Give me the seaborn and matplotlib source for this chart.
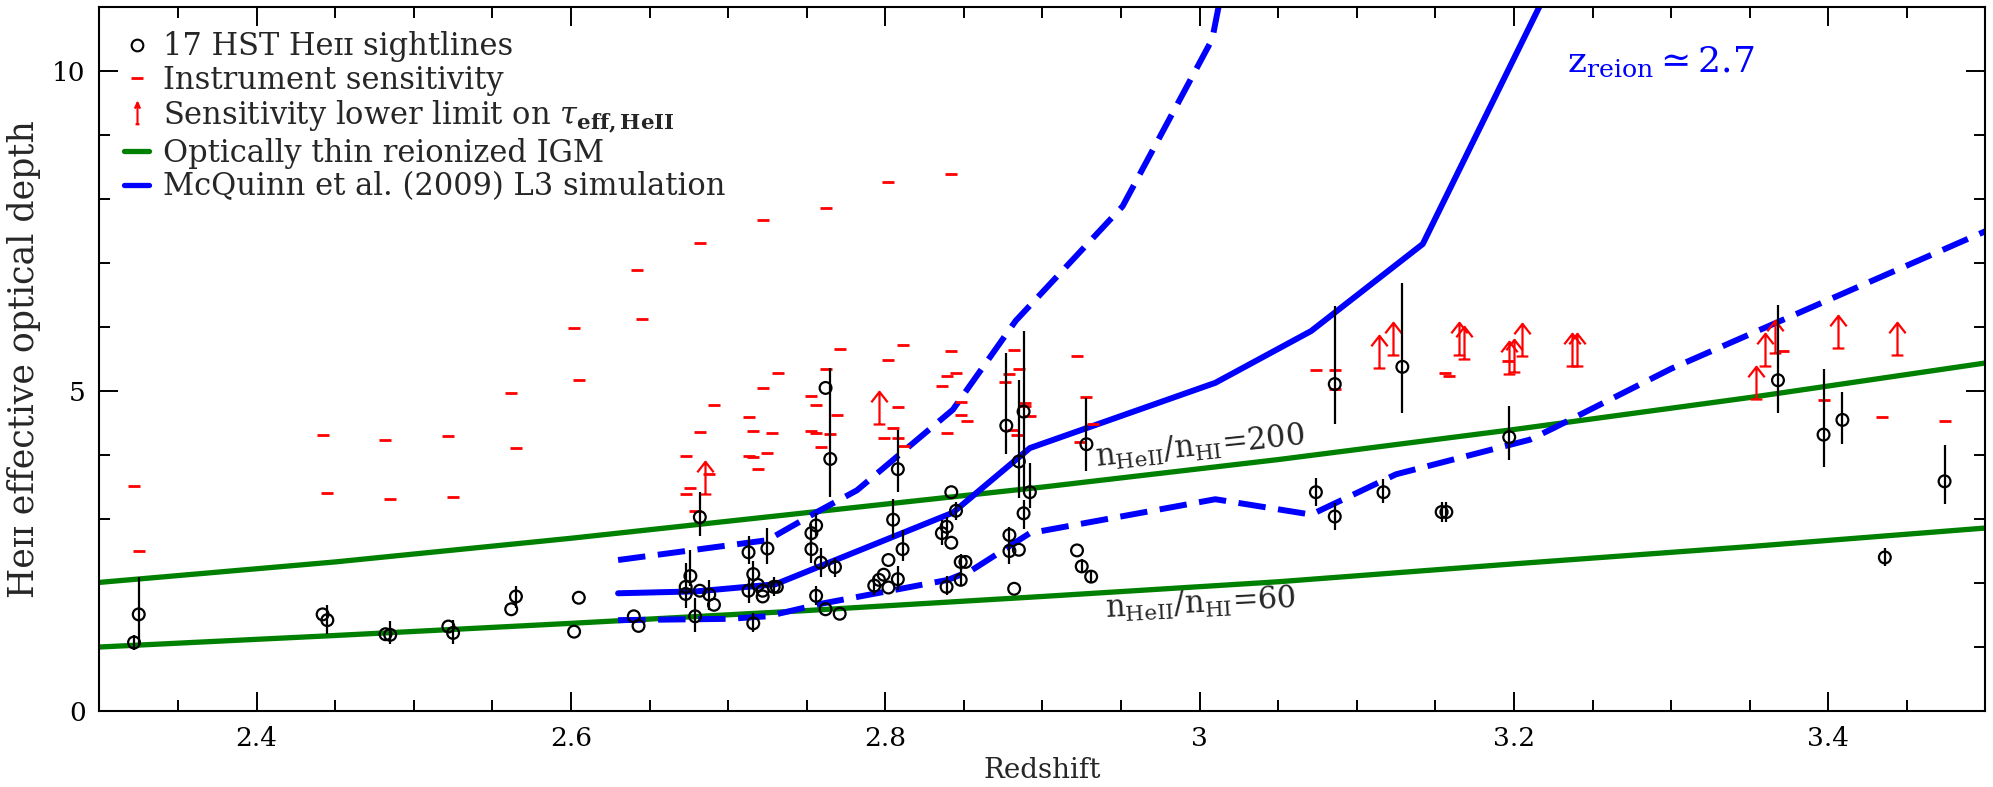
import numpy as np
import pandas as pd
import matplotlib
matplotlib.use("Agg")
import matplotlib.pyplot as plt
import seaborn as sns
from matplotlib.path import Path
from matplotlib.lines import Line2D
from matplotlib.markers import MarkerStyle
from matplotlib.ticker import MultipleLocator, FuncFormatter

# ---------------- data ----------------
sight_z = [2.322, 2.325, 2.442, 2.445, 2.482, 2.485, 2.522, 2.525, 2.562, 2.565, 2.602, 2.605, 2.640, 2.643,
           2.673, 2.673, 2.676, 2.679, 2.682, 2.682, 2.688, 2.691,
           2.713, 2.713, 2.716, 2.716, 2.719, 2.722, 2.722, 2.725, 2.729, 2.731,
           2.753, 2.753, 2.756, 2.756, 2.762, 2.765, 2.759, 2.762, 2.768, 2.771,
           2.793, 2.796, 2.799, 2.802, 2.802, 2.805, 2.808, 2.808, 2.811,
           2.836, 2.839, 2.839, 2.842, 2.842, 2.845, 2.848, 2.848, 2.851,
           2.877, 2.879, 2.879, 2.882, 2.885, 2.885, 2.888, 2.888, 2.892,
           2.922, 2.925, 2.931, 2.928,
           3.074, 3.086, 3.086, 3.117, 3.129, 3.154, 3.157, 3.197,
           3.368, 3.397, 3.409, 3.436, 3.474]
sight_tau = [1.07, 1.51, 1.51, 1.42, 1.20, 1.19, 1.32, 1.22, 1.59, 1.79, 1.24, 1.77, 1.48, 1.33,
             1.94, 1.83, 2.11, 1.48, 3.03, 1.88, 1.82, 1.66,
             2.48, 1.88, 2.14, 1.37, 1.97, 1.88, 1.79, 2.54, 1.94, 1.94,
             2.78, 2.53, 2.90, 1.80, 5.05, 3.94, 2.32, 1.59, 2.25, 1.52,
             1.96, 2.05, 2.13, 2.36, 1.93, 2.99, 3.78, 2.06, 2.53,
             2.78, 2.88, 1.94, 3.42, 2.63, 3.13, 2.05, 2.33, 2.33,
             4.46, 2.75, 2.50, 1.91, 2.52, 3.90, 4.68, 3.09, 3.42,
             2.51, 2.26, 2.10, 4.17,
             3.42, 5.11, 3.04, 3.42, 5.38, 3.11, 3.11, 4.28,
             5.17, 4.32, 4.55, 2.40, 3.59]
sight_lo = [0.95, 1.03, 1.51, 1.20, 1.20, 1.04, 1.32, 1.05, 1.59, 1.61, 1.24, 1.77, 1.48, 1.33,
            1.61, 1.83, 1.95, 1.23, 2.73, 1.88, 1.58, 1.66,
            2.30, 1.69, 1.94, 1.24, 1.97, 1.88, 1.79, 2.29, 1.79, 1.94,
            2.63, 2.31, 2.73, 1.66, 5.05, 3.35, 2.10, 1.59, 2.09, 1.52,
            1.82, 2.05, 2.13, 2.36, 1.93, 2.71, 3.42, 1.89, 2.35,
            2.60, 2.72, 1.82, 3.42, 2.63, 2.99, 1.95, 2.20, 2.33,
            4.01, 2.62, 2.30, 1.91, 2.52, 3.33, 3.45, 2.85, 3.17,
            2.51, 2.15, 2.00, 3.75,
            3.20, 4.48, 2.83, 3.25, 4.66, 2.95, 2.95, 3.92,
            4.66, 3.82, 4.18, 2.26, 3.23]
sight_hi = [1.19, 2.10, 1.51, 1.65, 1.20, 1.40, 1.32, 1.43, 1.59, 1.95, 1.24, 1.77, 1.48, 1.33,
            2.31, 1.83, 2.52, 1.76, 3.43, 1.88, 2.05, 1.66,
            2.73, 2.10, 2.35, 1.53, 1.97, 1.88, 1.79, 2.86, 2.10, 1.94,
            2.93, 2.73, 3.09, 1.95, 5.05, 5.36, 2.55, 1.59, 2.39, 1.52,
            2.11, 2.05, 2.13, 2.36, 1.93, 3.32, 4.39, 2.26, 2.83,
            2.98, 3.04, 2.11, 3.42, 2.63, 3.26, 2.26, 2.46, 2.33,
            5.60, 2.88, 2.63, 1.91, 2.52, 5.18, 5.94, 3.30, 3.88,
            2.51, 2.37, 2.20, 4.89,
            3.64, 6.33, 3.25, 3.62, 6.69, 3.27, 3.27, 4.77,
            6.35, 5.34, 4.99, 2.54, 4.16]

sens_z = [2.322, 2.325, 2.442, 2.445, 2.482, 2.485, 2.522, 2.525, 2.562, 2.565, 2.602, 2.605, 2.642, 2.645,
          2.682, 2.722, 2.762, 2.802, 2.842,
          2.673, 2.673, 2.676, 2.679, 2.682, 2.688, 2.691,
          2.713, 2.713, 2.716, 2.716, 2.719, 2.722, 2.725, 2.728, 2.732,
          2.753, 2.753, 2.756, 2.756, 2.759, 2.762, 2.765, 2.769, 2.771,
          2.799, 2.802, 2.805, 2.808, 2.808, 2.811, 2.812,
          2.836, 2.839, 2.839, 2.842, 2.845, 2.848, 2.848, 2.852,
          2.876, 2.879, 2.881, 2.882, 2.884, 2.885, 2.889, 2.889, 2.892,
          2.922, 2.924, 2.928, 2.932,
          3.074, 3.086, 3.086, 3.156, 3.159, 3.196, 3.371, 3.397, 3.434, 3.474]
sens_tau = [3.51, 2.50, 4.31, 3.40, 4.23, 3.32, 4.30, 3.35, 4.97, 4.11, 5.99, 5.17, 6.89, 6.12,
            7.32, 7.67, 7.86, 8.27, 8.39,
            3.99, 3.39, 3.49, 3.12, 4.36, 3.71, 4.78,
            4.60, 3.99, 4.38, 3.97, 3.79, 5.05, 4.03, 4.34, 5.29,
            4.93, 4.37, 4.78, 4.34, 4.13, 5.35, 4.33, 4.62, 5.66,
            4.26, 5.49, 4.43, 4.75, 4.26, 5.72, 4.15,
            5.08, 5.23, 4.35, 5.62, 5.29, 4.83, 4.63, 4.53,
            5.14, 5.27, 4.39, 5.65, 4.32, 5.35, 4.82, 4.77, 4.61,
            5.55, 4.21, 4.91, 4.49,
            5.33, 5.33, 5.03, 5.28, 5.23, 5.47, 5.63, 4.86, 4.60, 4.54]

limit_z = [2.685, 2.796, 3.114, 3.123, 3.165, 3.168, 3.197, 3.200, 3.205, 3.237, 3.240,
           3.354, 3.360, 3.366, 3.406, 3.444]
limit_tau = [3.39, 4.49, 5.36, 5.56, 5.56, 5.51, 5.27, 5.30, 5.55, 5.40, 5.40,
             4.88, 5.40, 5.60, 5.68, 5.57]

thin_z = [2.3, 2.45, 2.6, 2.75, 2.9, 3.05, 3.2, 3.35, 3.5]
thin_200 = [2.01, 2.33, 2.70, 3.10, 3.50, 3.93, 4.40, 4.90, 5.44]
thin_60 = [1.00, 1.18, 1.37, 1.57, 1.79, 2.02, 2.30, 2.57, 2.86]

sim_mid_z = [2.63, 2.68, 2.73, 2.843, 2.892, 3.01, 3.071, 3.142, 3.19, 3.23]
sim_mid_tau = [1.84, 1.87, 1.98, 3.10, 4.11, 5.13, 5.94, 7.30, 9.70, 11.7]
sim_hi_z = [2.63, 2.725, 2.755, 2.782, 2.843, 2.883, 2.951, 3.008, 3.016]
sim_hi_tau = [2.36, 2.67, 3.09, 3.45, 4.71, 6.10, 7.89, 10.5, 11.5]
sim_lo_z = [2.63, 2.70, 2.725, 2.76, 2.84, 2.855, 2.892, 3.01, 3.071, 3.125, 3.21, 3.225, 3.30, 3.5]
sim_lo_tau = [1.42, 1.44, 1.48, 1.68, 2.05, 2.20, 2.78, 3.31, 3.07, 3.70, 4.24, 4.42, 5.35, 7.5]

HE2 = "He\u026a\u026a"

# ---------------- style ----------------
sns.set_style("ticks")
plt.rcParams["font.family"] = ["DejaVu Serif", "DejaVu Sans"]
plt.rcParams["mathtext.fontset"] = "dejavuserif"
FS_LEG = 22
FS_TICK = 19
FS_ANN = 22

fig = plt.figure(figsize=(19.93, 7.87), dpi=100)
ax = fig.add_axes([0.0499, 0.0966, 0.9463, 0.8941])

GREEN = "#008000"
BLUE = "#0000ff"
RED = "#ff0000"
DASH = (0, (4.6, 2.1))

# optically thin curves
sns.lineplot(x=thin_z, y=thin_200, color=GREEN, lw=3.8, ax=ax)
sns.lineplot(x=thin_z, y=thin_60, color=GREEN, lw=3.8, ax=ax)

# simulation curves
sns.lineplot(x=sim_mid_z, y=sim_mid_tau, color=BLUE, lw=4.3, ax=ax)
sns.lineplot(x=sim_hi_z, y=sim_hi_tau, color=BLUE, lw=4.3, linestyle=DASH, ax=ax)
sns.lineplot(x=sim_lo_z, y=sim_lo_tau, color=BLUE, lw=4.3, linestyle=DASH, ax=ax)

# sensitivity marks
sns.scatterplot(x=sens_z, y=sens_tau, marker="_", s=64, color=RED, linewidth=2.0, ax=ax, zorder=3)

# lower limit arrows
arrow_verts = [(-0.18, 0), (0.18, 0), (0, 0), (0, 1), (-0.25, 0.68), (0, 1), (0.25, 0.68)]
arrow_codes = [Path.MOVETO, Path.LINETO, Path.MOVETO, Path.LINETO, Path.MOVETO, Path.LINETO, Path.LINETO]
arrow_marker = MarkerStyle(Path(arrow_verts, arrow_codes))
ax.plot(limit_z, limit_tau, ls="none", marker=arrow_marker, ms=47, mfc="none", mec=RED, mew=1.6, zorder=3)

# sightline measurements
tau = np.array(sight_tau)
yerr = [tau - np.array(sight_lo), np.array(sight_hi) - tau]
ax.errorbar(sight_z, sight_tau, yerr=yerr, fmt="none", ecolor="black", elinewidth=1.6, capsize=0, zorder=4)
sns.scatterplot(x=sight_z, y=sight_tau, marker="o", s=72, color="black", facecolor="none",
                edgecolor="black", linewidth=1.6, ax=ax, zorder=5)

# axes
ax.set_xlim(2.3, 3.5)
ax.set_ylim(0, 11)
ax.xaxis.set_major_locator(MultipleLocator(0.2))
ax.xaxis.set_minor_locator(MultipleLocator(0.05))
ax.yaxis.set_major_locator(MultipleLocator(5))
ax.yaxis.set_minor_locator(MultipleLocator(1))
ax.xaxis.set_major_formatter(FuncFormatter(lambda v, p: f"{v:g}"))
ax.yaxis.set_major_formatter(FuncFormatter(lambda v, p: f"{v:g}"))
ax.tick_params(which="both", direction="in", top=True, right=True, width=1.4, labelsize=FS_TICK, colors="black")
ax.tick_params(which="major", length=13.5)
ax.tick_params(which="minor", length=8)
ax.tick_params(axis="x", pad=11)
ax.tick_params(axis="y", pad=10)
for s in ax.spines.values():
    s.set_linewidth(1.5)
    s.set_color("black")
    s.set_visible(True)

ax.set_xlabel("Redshift", fontsize=20, labelpad=4)
ax.set_ylabel(HE2 + " effective optical depth", fontsize=25, labelpad=8)

# annotations
ax.text(2.934, 3.82, "n$_{\\rm HeII}$/n$_{\\rm HI}$=200", fontsize=FS_ANN, rotation=6,
        rotation_mode="anchor", ha="left", va="baseline")
ax.text(2.940, 1.45, "n$_{\\rm HeII}$/n$_{\\rm HI}$=60", fontsize=FS_ANN, rotation=3,
        rotation_mode="anchor", ha="left", va="baseline")
ax.text(3.234, 10.0, "z$_{\\rm reion}\\simeq$2.7", fontsize=26, color=BLUE, ha="left", va="baseline")

# legend
arrow_leg = MarkerStyle(Path([(-0.18, -1), (0.18, -1), (0, -1), (0, 1), (-0.25, 0.45), (0, 1), (0.25, 0.45)],
                             arrow_codes))
handles = [
    Line2D([], [], ls="none", marker="o", mfc="none", mec="black", ms=8.4, mew=1.5),
    Line2D([], [], ls="none", marker="_", color=RED, ms=8, mew=2.0),
    Line2D([], [], ls="none", marker=arrow_leg, mfc="none", mec=RED, ms=15.6, mew=1.5),
    Line2D([], [], color=GREEN, lw=3.8),
    Line2D([], [], color=BLUE, lw=3.8),
]
labels = [
    "17 HST " + HE2 + " sightlines",
    "Instrument sensitivity",
    "Sensitivity lower limit on $\\tau_{\\bf eff,HeII}$",
    "Optically thin reionized IGM",
    "McQuinn et al. (2009) L3 simulation",
]
ax.legend(handles, labels, loc="upper left", bbox_to_anchor=(0.0131, 0.966), frameon=False,
          fontsize=FS_LEG, handlelength=0.82, handletextpad=0.45, labelspacing=0.09,
          borderaxespad=0, borderpad=0)

fig.savefig("out.png", dpi=100)
